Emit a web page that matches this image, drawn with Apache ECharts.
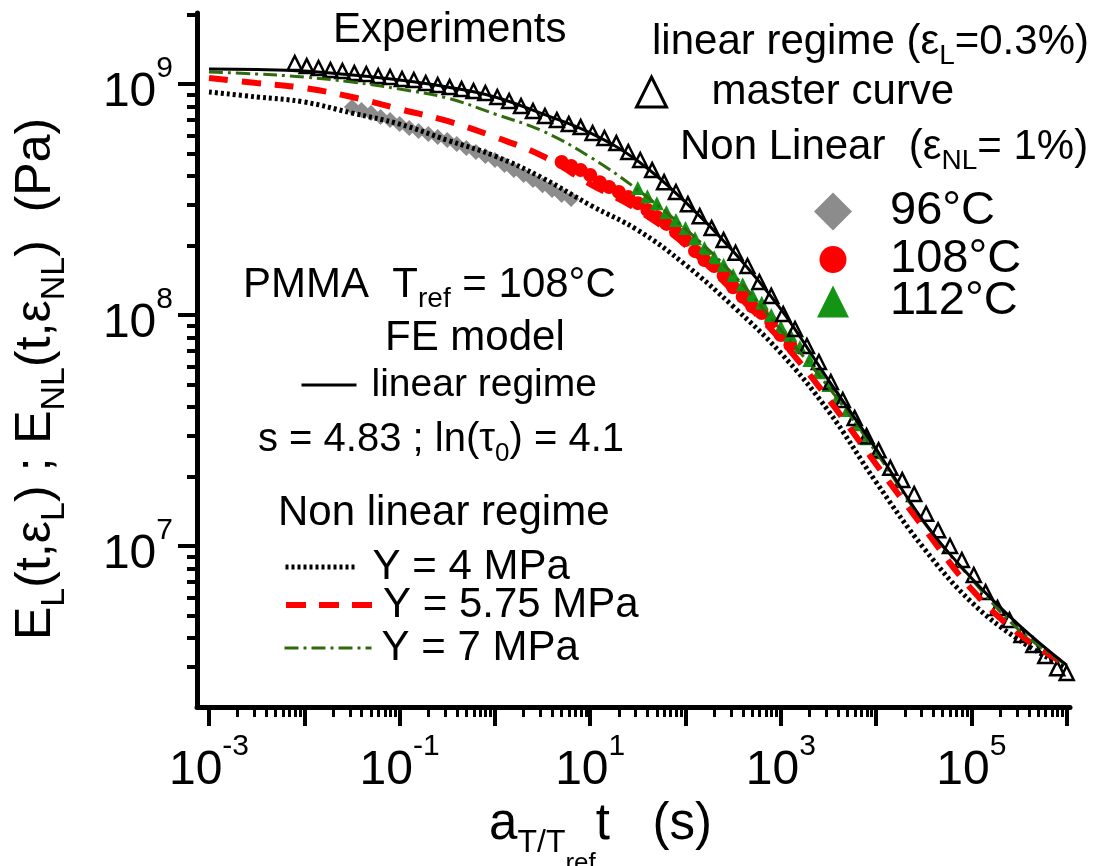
<!DOCTYPE html>
<html><head><meta charset="utf-8">
<script src="https://cdn.jsdelivr.net/npm/echarts@6/dist/echarts.min.js"></script>
<style>html,body{margin:0;padding:0;background:#fff}#c{width:1104px;height:866px}</style>
</head><body><div id="c"></div>
<script>
const FONT = '"Liberation Sans", Arial, Helvetica, sans-serif';

// ---- tick positions / labels ----
const xMajorTicks = [1e-3, 1e-2, 1e-1, 1, 10, 100, 1e3, 1e4, 1e5, 1e6];
const xLabelTicks = [1e-3, 1e-1, 10, 1e3, 1e5];
const xMinorTicks = [
  0.002,0.003,0.004,0.005,0.006,0.007,0.008,0.009,
  0.02,0.03,0.04,0.05,0.06,0.07,0.08,0.09,
  0.2,0.3,0.4,0.5,0.6,0.7,0.8,0.9,
  2,3,4,5,6,7,8,9,
  20,30,40,50,60,70,80,90,
  200,300,400,500,600,700,800,900,
  2000,3000,4000,5000,6000,7000,8000,9000,
  20000,30000,40000,50000,60000,70000,80000,90000,
  200000,300000,400000,500000,600000,700000,800000,900000
];
const yMajorTicks = [1e7, 1e8, 1e9];
const yLabelTicks = [1e7, 1e8, 1e9];
const yMinorTicks = [
  3e6,4e6,5e6,6e6,7e6,8e6,9e6,
  2e7,3e7,4e7,5e7,6e7,7e7,8e7,9e7,
  2e8,3e8,4e8,5e8,6e8,7e8,8e8,9e8,
  2e9
];

// ---- experimental data ----
const masterT = [
  7.94e-3,1.06e-2,1.41e-2,1.88e-2,2.51e-2,3.35e-2,4.47e-2,5.96e-2,
  7.94e-2,0.106,0.141,0.188,0.251,0.335,0.447,0.596,
  0.794,1.06,1.41,1.88,2.51,3.35,4.47,5.96,
  7.94,10.6,14.1,18.8,25.1,33.5,44.7,59.6,
  79.4,106,141,188,251,335,447,596,
  794,1060,1410,1880,2510,3350,4470,5960,
  7940,1.06e4,1.41e4,1.88e4,2.51e4,3.35e4,4.47e4,5.96e4,
  7.94e4,1.06e5,1.41e5,1.88e5,2.51e5,3.35e5,4.47e5,5.96e5,
  7.94e5,1.0e6
];
const masterE = [
  1.233e9,1.196e9,1.173e9,1.150e9,1.138e9,1.116e9,1.105e9,1.083e9,
  1.072e9,1.051e9,1.041e9,1.010e9,9.90e8,9.70e8,9.51e8,9.33e8,
  9.14e8,8.79e8,8.44e8,8.03e8,7.64e8,7.27e8,6.99e8,6.71e8,
  6.51e8,6.14e8,5.84e8,5.55e8,5.08e8,4.69e8,4.24e8,3.76e8,
  3.41e8,3.02e8,2.68e8,2.38e8,2.11e8,1.86e8,1.63e8,1.39e8,
  1.21e8,1.01e8,8.70e7,7.34e7,6.26e7,5.13e7,4.29e7,3.58e7,
  2.99e7,2.60e7,2.18e7,1.93e7,1.68e7,1.38e7,1.17e7,1.00e7,
  8.70e6,7.49e6,6.32e6,5.39e6,4.78e6,4.12e6,3.73e6,3.34e6,
  2.96e6,2.82e6
];
const t96 = [0.0316,0.0398,0.0501,0.0631,0.0794,0.1,0.126,0.158,0.2,0.251,0.316,0.398,0.501,0.631,0.794,1,1.26,1.58,2.0,2.51,3.16,3.98,5.01,6.31];
const E96 = [7.95e8,7.72e8,7.49e8,7.20e8,6.99e8,6.71e8,6.45e8,6.26e8,6.07e8,5.90e8,5.72e8,5.50e8,5.28e8,5.08e8,4.88e8,4.69e8,4.46e8,4.24e8,4.04e8,3.84e8,3.65e8,3.48e8,3.31e8,3.18e8];
const t108 = [5.01,6.31,7.94,10,12.6,15.8,20,25.1,31.6,39.8,50.1,63.1,79.4,100,126,158,200,251,316,398,501,631,794,1000,1259];
const E108 = [4.60e8,4.42e8,4.24e8,4.04e8,3.76e8,3.58e8,3.41e8,3.24e8,3.05e8,2.85e8,2.66e8,2.48e8,2.29e8,2.11e8,1.89e8,1.73e8,1.63e8,1.48e8,1.32e8,1.20e8,1.09e8,1.02e8,9.33e7,8.19e7,7.42e7];
const t112 = [31.6,39.8,50.1,63.1,79.4,100,126,158,200,251,316,398,501,631,794,1000,1259,1585,1995,2512,3162,3981,5012,6310,7943,10000];
const E112 = [3.55e8,3.27e8,3.05e8,2.79e8,2.58e8,2.38e8,2.15e8,1.95e8,1.78e8,1.65e8,1.49e8,1.36e8,1.22e8,1.13e8,1.00e8,8.87e7,8.19e7,7.27e7,6.39e7,5.66e7,4.98e7,4.42e7,3.88e7,3.37e7,2.93e7,2.55e7];

// ---- FE model curves ----
const modelT = [1e-3,3.16e-3,1e-2,3.16e-2,0.1,0.316,1,3.16,10,31.6,100,316,1000,3162,1e4,3.16e4,1e5,3.16e5,1e6];
const linearE = [1.161e9,1.156e9,1.139e9,1.094e9,1.041e9,9.71e8,8.79e8,7.42e8,6.14e8,4.64e8,3.08e8,1.89e8,1.06e8,5.23e7,2.63e7,1.28e7,7.27e6,4.55e6,3.05e6];
const nlY7E = [1.127e9,1.105e9,1.072e9,1.020e9,9.51e8,8.70e8,7.42e8,6.26e8,4.83e8,3.48e8,2.36e8,1.50e8,8.61e7,4.88e7,2.55e7,1.27e7,7.20e6,4.33e6,3.05e6];
const nlY575E = [1.062e9,1.010e9,9.61e8,8.79e8,7.79e8,6.92e8,5.90e8,4.88e8,3.69e8,2.85e8,2.01e8,1.27e8,7.79e7,4.33e7,2.26e7,1.20e7,6.51e6,4.16e6,3.05e6];
const nlY4E = [9.24e8,8.79e8,8.36e8,7.49e8,6.71e8,5.72e8,4.88e8,3.92e8,2.99e8,2.33e8,1.65e8,1.09e8,6.85e7,3.84e7,1.89e7,9.80e6,5.72e6,3.92e6,2.96e6];

const pairs = (xs, ys) => xs.map((x, i) => [x, ys[i]]);

const X_MIN = 7.48e-4, X_MAX = 1.083e6, Y_MIN = 2.01e6, Y_MAX = 2.03e9;

const powFmt = v => '{b|10}{s|' + Math.round(Math.log10(v)) + '}';
const powRich = {
  b: {fontSize: 48, lineHeight: 78, fontFamily: FONT, color: '#000', verticalAlign: 'middle'},
  s: {fontSize: 30, lineHeight: 30, fontFamily: FONT, color: '#000', verticalAlign: 'top'}
};

function richText(x, y, text, size) {
  return {
    type: 'text', x: x, y: y, z: 100,
    style: {
      text: text, fill: '#000', fontFamily: FONT, fontSize: size,
      align: 'left', verticalAlign: 'middle',
      rich: {
        m: {fontSize: size, lineHeight: Math.round(size * 1.34), fontFamily: FONT, fill: '#000'},
        s: {fontSize: Math.round(size * 0.66), lineHeight: Math.round(size * 0.66), verticalAlign: 'bottom', fontFamily: FONT, fill: '#000'}
      }
    }
  };
}

function lineLegend(name, left, cy, w, lineStyle, size, padL) {
  return {
    data: [name], left: left, top: cy - 22, padding: 0, itemGap: 0,
    itemWidth: w, itemHeight: 14, selectedMode: false,
    lineStyle: lineStyle,
    itemStyle: {opacity: 0, borderWidth: 0},
    textStyle: {fontSize: size, fontFamily: FONT, color: '#000', lineHeight: 44, padding: [0, 0, 0, padL]}
  };
}
function symLegend(name, cx, cy, s, itemStyle, size, textX) {
  const left = cx - s / 2;
  return {
    data: [name], left: left, top: cy - 22, padding: 0, itemGap: 0,
    itemWidth: s, itemHeight: s, selectedMode: false,
    itemStyle: itemStyle,
    textStyle: {fontSize: size, fontFamily: FONT, color: '#000', lineHeight: 44,
                padding: [0, 0, 0, textX - (left + s + 5)]}
  };
}

const chart = echarts.init(document.getElementById('c'), null, {renderer: 'canvas'});

const option = {
  backgroundColor: '#fff',
  animation: false,
  grid: {left: 197, top: 13, right: 34, bottom: 159, containLabel: false, outerBoundsMode: 'none'},
  xAxis: [
    {
      type: 'log', logBase: 10, min: X_MIN, max: X_MAX,
      name: '{m|a}{s|T/T}{ss|ref}{m|t   (s)}',
      nameLocation: 'middle', nameGap: 81,
      nameTextStyle: {
        padding: [0, 66, 0, 0],
        rich: {
          m: {fontSize: 51, fontFamily: FONT, color: '#000', verticalAlign: 'top'},
          s: {fontSize: 32, fontFamily: FONT, color: '#000', verticalAlign: 'top', padding: [27, 0, 0, 0]},
          ss: {fontSize: 26, fontFamily: FONT, color: '#000', verticalAlign: 'top', padding: [51, 0, 0, 0]}
        }
      },
      axisLine: {show: true, onZero: false, lineStyle: {color: '#000', width: 5}},
      axisTick: {show: true, inside: false, length: 19, customValues: xMajorTicks, lineStyle: {color: '#000', width: 4}},
      axisLabel: {show: true, customValues: xLabelTicks, formatter: powFmt, rich: powRich, margin: 25},
      splitLine: {show: false}, minorTick: {show: false}
    },
    {
      type: 'log', logBase: 10, min: X_MIN, max: X_MAX, position: 'bottom',
      axisLine: {show: false},
      axisTick: {show: true, inside: false, length: 10, customValues: xMinorTicks, lineStyle: {color: '#000', width: 3}},
      axisLabel: {show: false}, splitLine: {show: false}
    }
  ],
  yAxis: [
    {
      type: 'log', logBase: 10, min: Y_MIN, max: Y_MAX,
      axisLine: {show: true, onZero: false, lineStyle: {color: '#000', width: 5}},
      axisTick: {show: true, inside: false, length: 19, customValues: yMajorTicks, lineStyle: {color: '#000', width: 4}},
      axisLabel: {show: true, customValues: yLabelTicks, formatter: powFmt, rich: powRich, margin: 24, padding: [18, 0, 0, 0]},
      splitLine: {show: false}, minorTick: {show: false}
    },
    {
      type: 'log', logBase: 10, min: Y_MIN, max: Y_MAX, position: 'left',
      axisLine: {show: false},
      axisTick: {show: true, inside: false, length: 10, customValues: yMinorTicks, lineStyle: {color: '#000', width: 4}},
      axisLabel: {show: false}, splitLine: {show: false}
    }
  ],
  legend: [
    symLegend('master curve', 650, 92, 30, {color: '#fff', borderColor: '#000', borderWidth: 3}, 42, 710),
    symLegend('96°C', 833, 210, 38, {color: '#8c8c8c', opacity: 1}, 47, 890),
    symLegend('108°C', 833, 258, 27, {color: '#ff0000', opacity: 1}, 47, 890),
    symLegend('112°C', 833, 300, 32, {color: '#149414', opacity: 1}, 47, 890),
    lineLegend('linear regime', 300, 385, 55, {color: '#000', width: 3, type: 'solid'}, 39, 10),
    lineLegend('Y = 4 MPa', 283, 567, 72, {color: '#000', width: 5, type: [3, 3]}, 42, 10),
    lineLegend('Y = 5.75 MPa', 283, 605, 87, {color: '#ff0000', width: 6, type: [20, 13]}, 42, 5),
    lineLegend('Y = 7 MPa', 283, 648, 87, {color: '#2f6a0c', width: 3, type: [14, 5, 3, 5]}, 42, 5)
  ],
  graphic: [
    {
      type: 'text', x: 11, y: 640, rotation: Math.PI / 2, z: 100,
      style: {
        text: '{m|E}{s|L}{m|(t,ε}{s|L}{m|) ; E}{s|NL}{m|(t,ε}{s|NL}{m|)  (Pa)}',
        align: 'left', verticalAlign: 'top', fill: '#000', fontFamily: FONT, fontSize: 50,
        rich: {
          m: {fontSize: 50, fontFamily: FONT, fill: '#000', verticalAlign: 'top'},
          s: {fontSize: 34, fontFamily: FONT, fill: '#000', verticalAlign: 'top', padding: [27, 0, 0, 0]}
        }
      }
    },
    richText(333, 30, '{m|Experiments}', 42),
    richText(652, 42, '{m|linear regime (ε}{s|L}{m|=0.3%)}', 42),
    richText(680, 147, '{m|Non Linear  (ε}{s|NL}{m|= 1%)}', 42),
    richText(243, 285, '{m|PMMA  T}{s|ref}{m| = 108°C}', 42),
    richText(385, 338, '{m|FE model}', 42),
    richText(258, 440, '{m|s = 4.83 ; ln(τ}{s|0}{m|) = 4.1}', 40),
    richText(278, 513, '{m|Non linear regime}', 42)
  ],
  series: [
    {name: '96°C', type: 'scatter', data: pairs(t96, E96), symbol: 'diamond', symbolSize: 16,
     itemStyle: {color: '#8c8c8c', opacity: 1}, z: 2},
    {name: '108°C', type: 'scatter', data: pairs(t108, E108), symbol: 'circle', symbolSize: 14,
     itemStyle: {color: '#ff0000', opacity: 1}, z: 2},
    {name: '112°C', type: 'scatter', data: pairs(t112, E112), symbol: 'triangle', symbolSize: 14,
     itemStyle: {color: '#149414', opacity: 1}, z: 2},
    {name: 'master curve', type: 'scatter', data: pairs(masterT, masterE), symbol: 'triangle', symbolSize: 14,
     itemStyle: {color: 'rgba(255,255,255,0)', borderColor: '#000', borderWidth: 2.5, opacity: 1}, z: 3},
    {name: 'Y = 4 MPa', type: 'line', data: pairs(modelT, nlY4E), smooth: 0.4, symbol: 'none',
     lineStyle: {color: '#000', width: 5, type: [3, 3]}, z: 4},
    {name: 'Y = 5.75 MPa', type: 'line', data: pairs(modelT, nlY575E), smooth: 0.4, symbol: 'none',
     lineStyle: {color: '#ff0000', width: 6, type: [19, 14]}, z: 4},
    {name: 'Y = 7 MPa', type: 'line', data: pairs(modelT, nlY7E), smooth: 0.4, symbol: 'none',
     lineStyle: {color: '#2f6a0c', width: 3, type: [14, 5, 3, 5]}, z: 4},
    {name: 'linear regime', type: 'line', data: pairs(modelT, linearE), smooth: 0.4, symbol: 'none',
     lineStyle: {color: '#000', width: 3}, z: 4}
  ]
};
chart.setOption(option);
</script>
</body></html>
